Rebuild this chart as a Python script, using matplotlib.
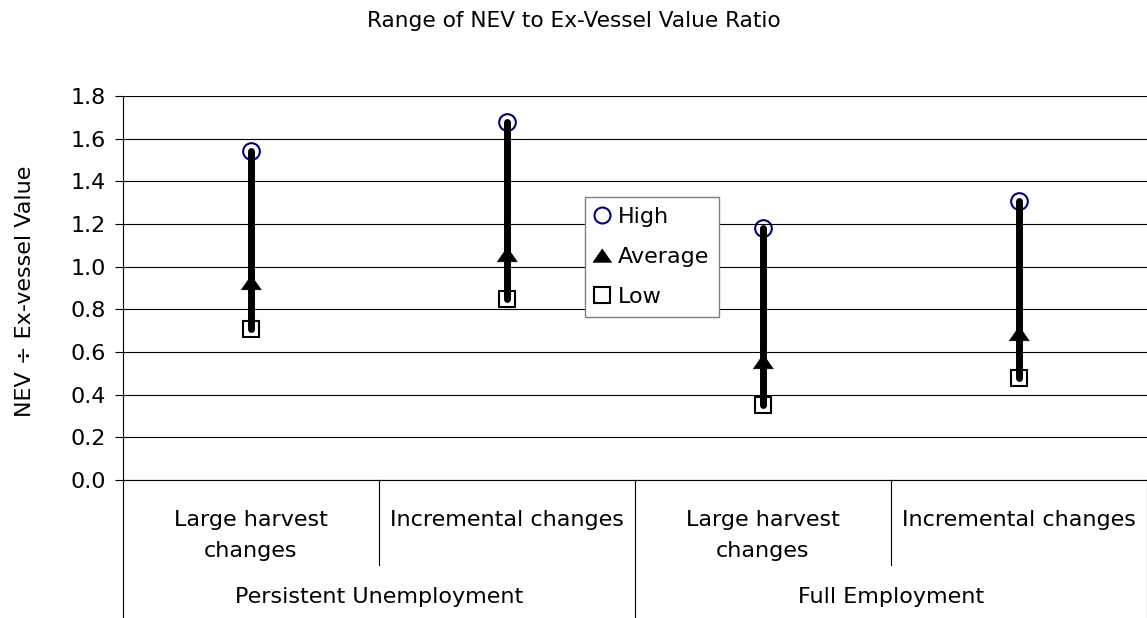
import matplotlib.pyplot as plt
from matplotlib.lines import Line2D

plt.rcParams['font.family'] = ['DejaVu Sans']

# NEV / ex-vessel value ratio by scenario
groups = ["Persistent Unemployment", "Full Employment"]
scenarios = ["Large harvest\nchanges", "Incremental changes",
             "Large harvest\nchanges", "Incremental changes"]
high = [1.54, 1.68, 1.18, 1.31]
average = [0.93, 1.06, 0.56, 0.69]
low = [0.71, 0.85, 0.35, 0.48]
y_ticks = [0.0, 0.2, 0.4, 0.6, 0.8, 1.0, 1.2, 1.4, 1.6, 1.8]

FS = 16
tri = [(0, 0.72), (-1, -0.72), (1, -0.72)]  # flattened triangle marker

fig = plt.figure(figsize=(11.47, 6.18), dpi=100)
ax = fig.add_axes([0.1072, 0.2233, 0.8928, 0.6214])

x = [i + 0.5 for i in range(len(scenarios))]

# high-low bars sit on top of the markers
for xi, lo, hi in zip(x, low, high):
    ax.plot([xi, xi], [lo, hi], color='black', lw=5,
            solid_capstyle='round', zorder=5)
ax.plot(x, high, linestyle='none', marker='o', ms=12, mfc='none',
        mec='#000080', mew=1.5, zorder=4)
ax.plot(x, average, linestyle='none', marker=tri, ms=14.5, mfc='black',
        mec='black', mew=0.5, zorder=6)
ax.plot(x, low, linestyle='none', marker='s', ms=12, mfc='white',
        mec='black', mew=1.5, zorder=4)

ax.set_xlim(0, 4)
ax.set_ylim(0, 1.8)
ax.set_yticks(y_ticks)
ax.set_yticklabels([f"{v:.1f}" for v in y_ticks], fontsize=FS)
ax.set_xticks([])
for v in y_ticks:
    ax.axhline(v, color='black', lw=0.8, zorder=1)
for side in ['top', 'right']:
    ax.spines[side].set_visible(False)
ax.spines['left'].set_color('black')
ax.spines['bottom'].set_color('black')
ax.tick_params(axis='y', length=6, width=0.8, pad=6, color='black')

ax.set_ylabel("NEV ÷ Ex-vessel Value", fontsize=FS, va='center')
ax.yaxis.set_label_coords(-0.096, 0.492)
fig.text(0.5, 0.956, "Range of NEV to Ex-Vessel Value Ratio",
         ha='center', va='baseline', fontsize=15.6)

# two-level category axis
trans = ax.get_xaxis_transform()
for xi, name in zip(x, scenarios):
    for k, line in enumerate(name.split("\n")):
        ax.text(xi, -(46 + 31 * k) / 384, line, transform=trans,
                ha='center', va='baseline', fontsize=FS)
for b in [1, 3]:
    ax.plot([b, b], [0, -0.221], transform=trans, color='black', lw=0.8,
            clip_on=False)
for b in [0, 2, 4]:
    ax.plot([b, b], [0, -0.36], transform=trans, color='black', lw=0.8,
            clip_on=False)
for gi, g in enumerate(groups):
    ax.text(gi * 2 + 1, -123 / 384, g, transform=trans, ha='center',
            va='baseline', fontsize=FS)

handles = [
    Line2D([], [], linestyle='none', marker='o', ms=11.5, mfc='none',
           mec='#000080', mew=1.5),
    Line2D([], [], linestyle='none', marker=tri, ms=13.5, mfc='black',
           mec='black', mew=0.5),
    Line2D([], [], linestyle='none', marker='s', ms=11.5, mfc='white',
           mec='black', mew=1.5),
]
leg = ax.legend(handles, ["High", "Average", "Low"], loc='upper left',
                bbox_to_anchor=(0.4512, 0.737), fontsize=FS, frameon=True,
                fancybox=False, edgecolor='#808080', framealpha=1,
                handlelength=0.63, handletextpad=0.4, borderpad=0.45,
                labelspacing=0.9, borderaxespad=0)
leg.get_frame().set_linewidth(1.0)
leg.set_zorder(10)

fig.savefig("out.png", dpi=100)
